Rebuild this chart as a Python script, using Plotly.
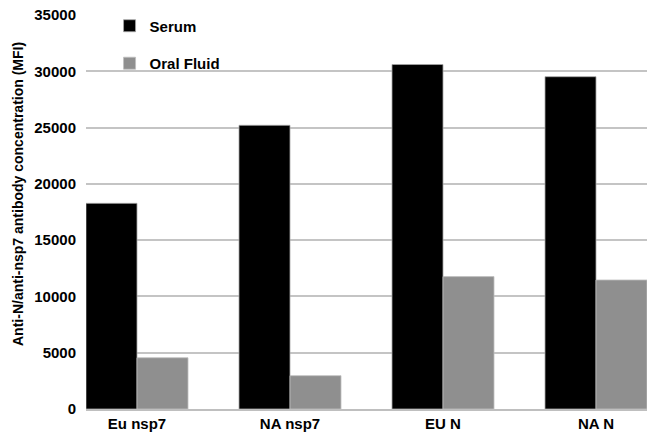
import plotly.graph_objects as go

categories = ["Eu nsp7", "NA nsp7", "EU N", "NA N"]
serum = [18270, 25200, 30600, 29520]
oral_fluid = [4550, 2960, 11760, 11460]
y_ticks = [0, 5000, 10000, 15000, 20000, 25000, 30000, 35000]
y_title = "Anti-N/anti-nsp7 antibody concentration (MFI)"

FONT = "Liberation Sans, Arial, sans-serif"

fig = go.Figure()
fig.add_trace(go.Bar(
    x=categories, y=serum, name="<b>Serum</b>", legendgroup="a",
    marker=dict(color="#000000", line=dict(color="#a6a6a6", width=0.8)),
))
fig.add_trace(go.Bar(
    x=categories, y=oral_fluid, name="<b>Oral Fluid</b>", legendgroup="b",
    marker=dict(color="#8f8f8f", line=dict(color="#bfbfbf", width=0.8)),
))

fig.update_layout(
    width=647, height=437,
    margin=dict(l=86, r=0, t=15, b=28),
    paper_bgcolor="white", plot_bgcolor="white",
    barmode="group", bargap=1/3, bargroupgap=0,
    font=dict(family=FONT, color="#000000"),
    showlegend=True,
    legend=dict(
        x=0.042, y=1.014, xanchor="left", yanchor="top",
        bgcolor="rgba(0,0,0,0)", font=dict(size=15, family=FONT),
        traceorder="grouped", tracegroupgap=15,
        itemwidth=30,
    ),
    xaxis=dict(
        range=[-1/3, 3 + 1/3],
        showline=True, linecolor="#bfbfbf", linewidth=2,
        showgrid=False, ticks="",
        tickfont=dict(size=15, family=FONT),
        tickprefix="<b>", ticksuffix="</b>",
    ),
    yaxis=dict(
        range=[0, 35000],
        tickvals=y_ticks,
        ticktext=[f"<b>{v}</b>" for v in y_ticks],
        showgrid=True, gridcolor="#c4c4c4", gridwidth=1.5,
        zeroline=False, showline=False, ticks="",
        ticklabelstandoff=9,
        tickfont=dict(size=15, family=FONT),
        automargin=False,
    ),
    annotations=[dict(
        text=f"<b>{y_title}</b>", textangle=-90,
        xref="paper", yref="paper", x=-0.121, y=0.546,
        xanchor="center", yanchor="middle", showarrow=False,
        font=dict(size=14, family=FONT),
    )],
)

fig.write_html(
    "out.html",
    config={"displayModeBar": False},
    post_script="document.body.style.margin='0';document.body.style.padding='0';",
)
